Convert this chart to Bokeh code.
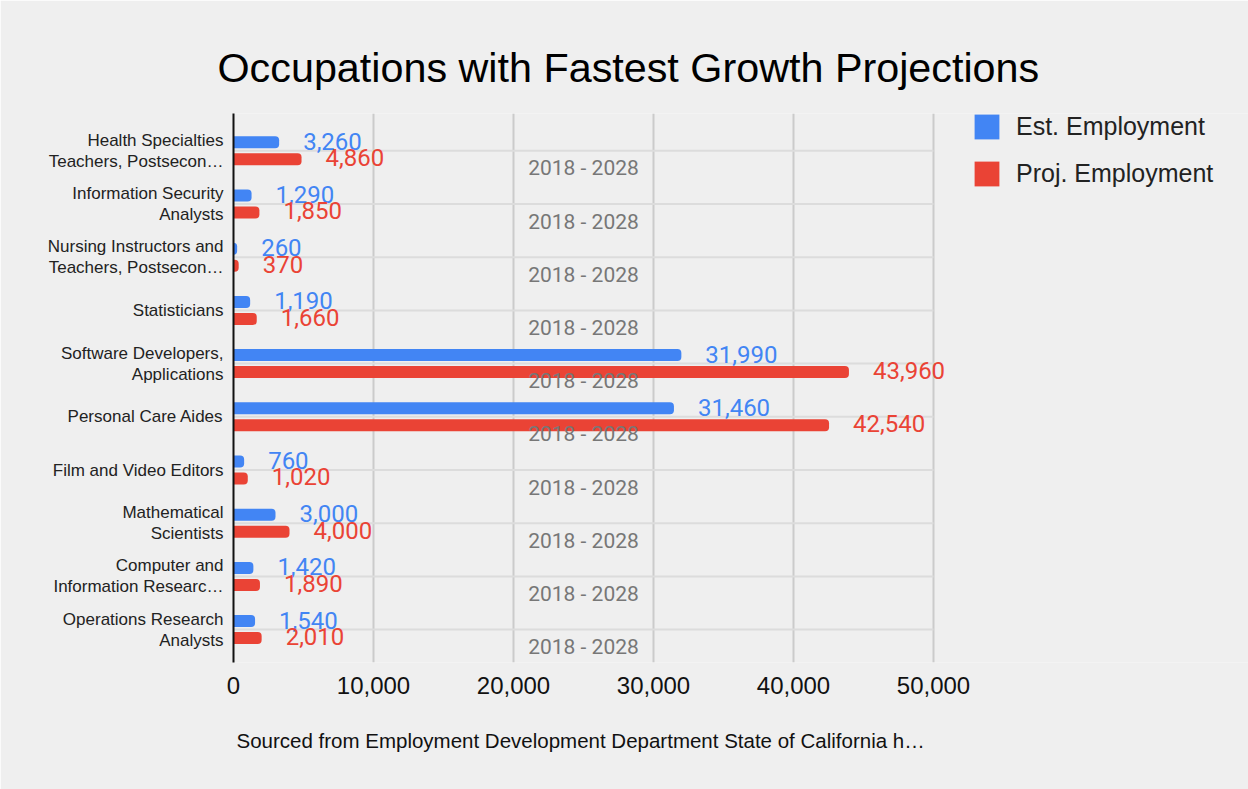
from bokeh.plotting import figure
from bokeh.models import (Range1d, FixedTicker, NumeralTickFormatter, Legend,
                          LegendItem, ColumnDataSource, Title)
from bokeh.transform import dodge
from bokeh.core.properties import value
from bokeh.embed import file_html
from bokeh.resources import INLINE

# ---------------- data ----------------
occupations = [
    "Health Specialties\nTeachers, Postsecon\u2026",
    "Information Security\nAnalysts",
    "Nursing Instructors and\nTeachers, Postsecon\u2026",
    "Statisticians",
    "Software Developers,\nApplications",
    "Personal Care Aides",
    "Film and Video Editors",
    "Mathematical\nScientists",
    "Computer and\nInformation Researc\u2026",
    "Operations Research\nAnalysts",
]
est_employment = [3260, 1290, 260, 1190, 31990, 31460, 760, 3000, 1420, 1540]
proj_employment = [4860, 1850, 370, 1660, 43960, 42540, 1020, 4000, 1890, 2010]
periods = ["2018 - 2028", "2018 - 2028", "2018 - 2028", "2018 - 2028", "2018 - 2028",
           "2018 - 2028", "2018 - 2028", "2018 - 2028", "2018 - 2028", "2018 - 2028"]
x_ticks = [0, 10000, 20000, 30000, 40000, 50000]
series_names = ["Est. Employment", "Proj. Employment"]
title_text = "Occupations with Fastest Growth Projections"
source_note = "Sourced from Employment Development Department State of California h\u2026"

# ---------------- layout / styling ----------------
BLUE = "#4285f4"
RED = "#ea4335"
BG = "#efefef"
X_MIN, X_MAX = x_ticks[0], x_ticks[-1]
W, H = 1248, 789
LEFT = 233                   # px, plot-area left edge
PLOT_W = 700                 # px for X_MIN..X_MAX
ROW = 53.2                   # px per category row
FIRST_C = 150.3              # px, centre of first row
PLOT_TOP, PLOT_BOT = 113, 662

n = len(occupations)
idx = list(range(n))

px = (X_MAX - X_MIN) / PLOT_W
x_end = X_MIN + (W - LEFT) * px
y_top = (PLOT_TOP - FIRST_C) / ROW
y_bot = (n - 1) + (PLOT_BOT - (FIRST_C + (n - 1) * ROW)) / ROW

src = ColumnDataSource(dict(
    y=idx,
    est=est_employment,
    proj=proj_employment,
    est_lbl=[f"{v:,}" for v in est_employment],
    proj_lbl=[f"{v:,}" for v in proj_employment],
    period=periods,
    mid=[(X_MIN + X_MAX) / 2] * n,
))

p = figure(width=W, height=H, output_backend="svg", toolbar_location=None,
           x_range=Range1d(X_MIN, x_end),
           y_range=Range1d(y_bot, y_top),
           min_border_left=LEFT, min_border_right=0,
           min_border_top=PLOT_TOP, min_border_bottom=H - PLOT_BOT,
           background_fill_color=BG, border_fill_color=BG,
           outline_line_color=None)
p.grid.visible = False

# grid lines limited to the plot area
p.segment(x0=x_ticks[1:], x1=x_ticks[1:], y0=y_top, y1=y_bot,
          line_color="#cbcbcb", line_width=2)
p.segment(x0=X_MIN, x1=X_MAX, y0=idx, y1=idx, line_color="#dcdcdc", line_width=2)

# x axis
p.xaxis.ticker = FixedTicker(ticks=x_ticks)
p.xaxis.bounds = (X_MIN, X_MAX)
p.xaxis.formatter = NumeralTickFormatter(format="0,0")
p.xaxis.axis_line_color = None
p.xaxis.major_tick_line_color = None
p.xaxis.minor_tick_line_color = None
p.xaxis.major_label_standoff = 8
p.xaxis.major_label_text_font = "Liberation Sans"
p.xaxis.major_label_text_font_size = "24px"
p.xaxis.major_label_text_color = "#111111"

# y axis
p.yaxis.ticker = FixedTicker(ticks=idx)
p.yaxis.major_label_overrides = {i: lab for i, lab in zip(idx, occupations)}
p.yaxis.axis_line_color = "#111111"
p.yaxis.axis_line_width = 2
p.yaxis.major_tick_line_color = None
p.yaxis.minor_tick_line_color = None
p.yaxis.major_tick_out = 0
p.yaxis.major_label_standoff = 10
p.yaxis.major_label_text_font = "Liberation Sans"
p.yaxis.major_label_text_font_size = "17px"
p.yaxis.major_label_text_line_height = 1.1
p.yaxis.major_label_text_color = "#222222"

# bars
bar_h = 0.226
r_est = p.hbar(y=dodge("y", -0.16), left=X_MIN, right="est", height=bar_h, source=src,
               fill_color=BLUE, line_color=None, border_radius=(0, 4, 4, 0))
r_proj = p.hbar(y=dodge("y", 0.16), left=X_MIN, right="proj", height=bar_h, source=src,
                fill_color=RED, line_color=None, border_radius=(0, 4, 4, 0))

# value labels
p.text(x="est", y=dodge("y", -0.18), text="est_lbl", source=src, x_offset=24,
       text_align="left", text_baseline="middle", text_color=BLUE,
       text_font=value("Roboto"), text_font_size="24px")
p.text(x="proj", y=dodge("y", 0.13), text="proj_lbl", source=src, x_offset=24,
       text_align="left", text_baseline="middle", text_color=RED,
       text_font=value("Roboto"), text_font_size="24px")
p.text(x="mid", y=dodge("y", 0.33), text="period", source=src,
       text_align="center", text_baseline="middle", text_color="#777777",
       text_font=value("Roboto"), text_font_size="21px")

# title (above) and source note (below)
p.add_layout(Title(text=title_text, align="left", offset=-16, standoff=46,
                   text_font="Liberation Sans", text_font_size="41.3px",
                   text_font_style="normal", text_color="#000000"), "above")
p.add_layout(Title(text=source_note, align="left", offset=3, standoff=61,
                   text_font="Liberation Sans", text_font_size="20.5px",
                   text_font_style="normal", text_color="#111111"), "below")

# legend
legend = Legend(items=[LegendItem(label=series_names[0], renderers=[r_est]),
                       LegendItem(label=series_names[1], renderers=[r_proj])],
                location=(971 - LEFT, PLOT_BOT - 189), padding=0, margin=0,
                border_line_color=None, background_fill_alpha=0,
                glyph_width=31, glyph_height=31, label_height=31,
                spacing=16, label_standoff=14,
                label_text_font="Liberation Sans", label_text_font_size="25px",
                label_text_color="#222222")
p.add_layout(legend)

open("out.html", "w").write(file_html(p, INLINE))
